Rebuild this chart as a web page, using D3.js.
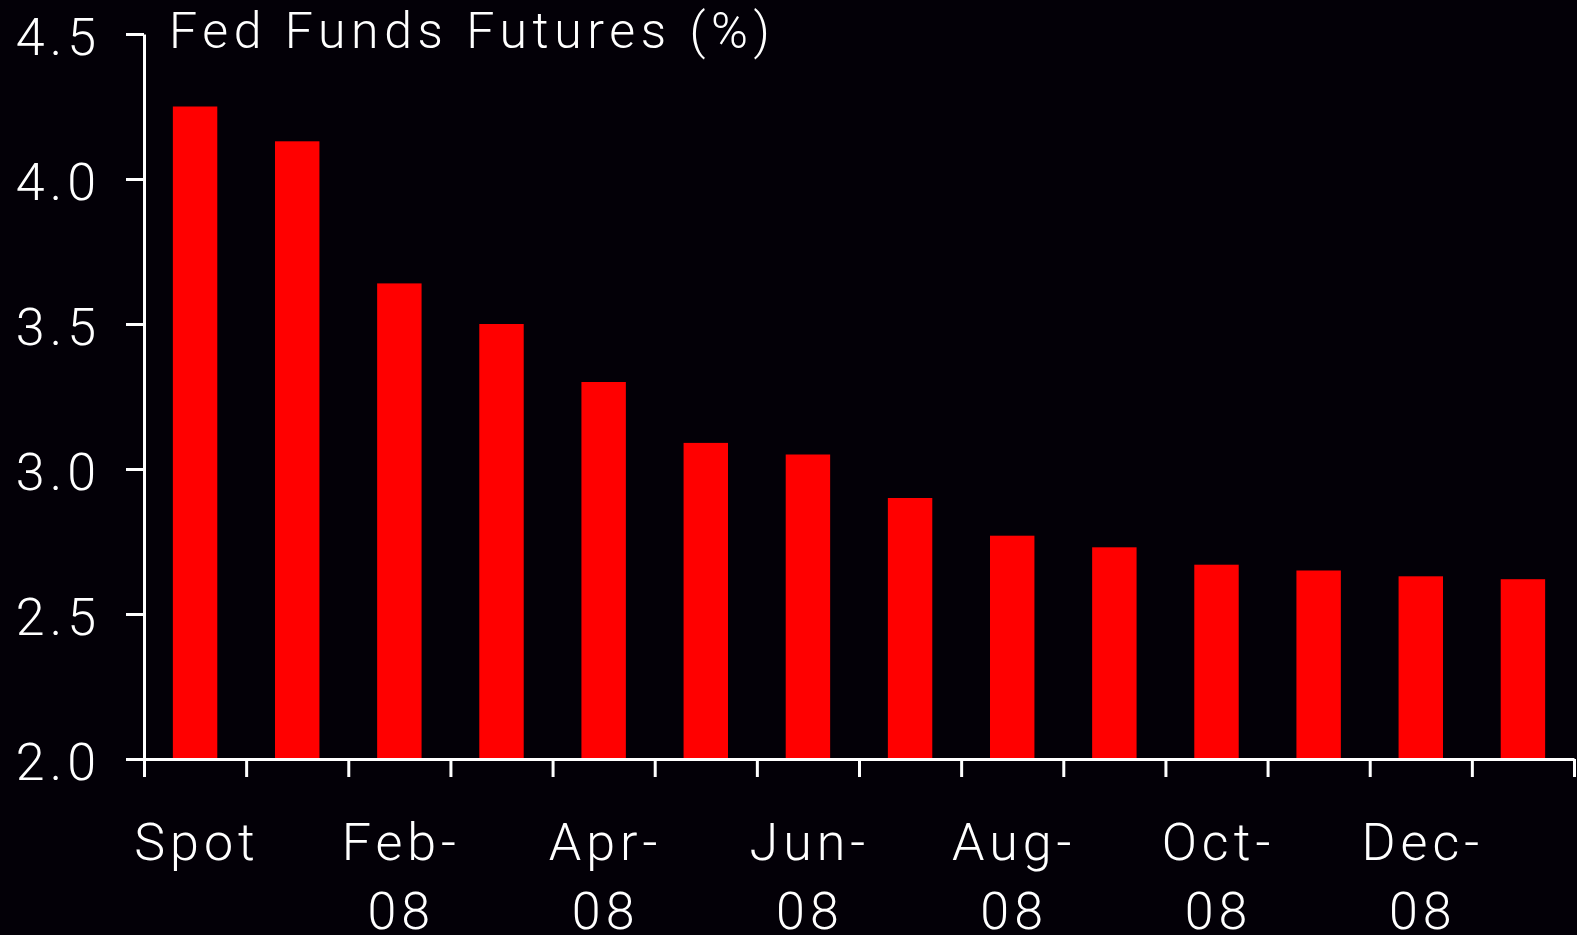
<!DOCTYPE html>
<html>
<head>
<meta charset="utf-8">
<script src="https://cdn.jsdelivr.net/npm/d3@7"></script>
<style>
  html, body { margin: 0; padding: 0; background: #030007; overflow: hidden; }
  svg text { font-family: Roboto, "Liberation Sans", sans-serif; font-weight: 300; fill: #fff; }
</style>
</head>
<body>
<div class="container"></div>
<script>
var width = 1577;
var height = 935;
var margin = {top: 34, right: 3, bottom: 176, left: 144};

// data
var categories = ["Spot", "Jan-08", "Feb-08", "Mar-08", "Apr-08", "May-08", "Jun-08",
                  "Jul-08", "Aug-08", "Sep-08", "Oct-08", "Nov-08", "Dec-08", "Jan-09"];
var rates = [4.25, 4.13, 3.64, 3.50, 3.30, 3.09, 3.05, 2.90, 2.77, 2.73, 2.67, 2.65, 2.63, 2.62];
var yTicks = [2.0, 2.5, 3.0, 3.5, 4.0, 4.5];
var title = "Fed Funds Futures (%)";

var svg = d3.select(".container")
  .append("svg")
  .attr("width", width)
  .attr("height", height);

var xScale = d3.scaleBand()
  .domain(categories)
  .range([margin.left, width - margin.right])
  .paddingInner(0.565)
  .paddingOuter(0.2825);

// tick marks sit on the band boundaries
var xIndex = d3.scaleLinear()
  .domain([0, categories.length])
  .range([margin.left, width - margin.right]);

var yScale = d3.scaleLinear()
  .domain([2.0, 4.5])
  .range([height - margin.bottom, margin.top]);

//-----------------------------------------
// bars
svg.selectAll(".bar")
  .data(rates)
  .enter()
  .append("rect")
  .attr("class", "bar")
  .attr("x", (d, i) => xScale(categories[i]))
  .attr("y", d => yScale(d))
  .attr("width", xScale.bandwidth())
  .attr("height", d => yScale(2.0) - yScale(d))
  .attr("fill", "#ff0000");

//-----------------------------------------
// axes
var yAxis = d3.axisLeft(yScale)
  .tickValues(yTicks)
  .tickFormat(d3.format(".1f"))
  .tickSizeInner(18)
  .tickSizeOuter(0)
  .tickPadding(25);

var xAxis = d3.axisBottom(xIndex)
  .tickValues(d3.range(categories.length + 1))
  .tickFormat("")
  .tickSizeInner(18)
  .tickSizeOuter(0);

var gy = svg.append("g")
  .attr("transform", "translate(" + margin.left + ",0)")
  .call(yAxis);

var gx = svg.append("g")
  .attr("transform", "translate(0," + (height - margin.bottom) + ")")
  .call(xAxis);

[gx, gy].forEach(function(g) {
  g.select(".domain").attr("stroke", "#fff").attr("stroke-width", 3);
  g.selectAll(".tick line").attr("stroke", "#fff").attr("stroke-width", 3);
});

gy.selectAll(".tick text")
  .attr("font-size", 52)
  .attr("dy", "0.4em")
  .style("letter-spacing", "5px")
  .style("font-family", null);

//-----------------------------------------
// category labels, every second one, split over two lines
var labels = svg.append("g").attr("class", "x-labels");
categories.forEach(function(c, i) {
  if (i % 2 != 0) return;
  var parts = c.indexOf("-") > 0 ? [c.split("-")[0] + "-", c.split("-")[1]] : [c];
  var cx = xScale(c) + xScale.bandwidth() / 2;
  var t = labels.append("text")
    .attr("text-anchor", "middle")
    .attr("font-size", 52)
    .style("letter-spacing", "5px");
  parts.forEach(function(p, k) {
    t.append("tspan")
      .attr("x", cx + 2)
      .attr("y", 860 + k * 69)
      .text(p);
  });
});

//-----------------------------------------
// title
svg.append("text")
  .attr("x", 169)
  .attr("y", 48)
  .attr("font-size", 50)
  .style("letter-spacing", "5.6px")
  .text(title);
</script>
</body>
</html>
